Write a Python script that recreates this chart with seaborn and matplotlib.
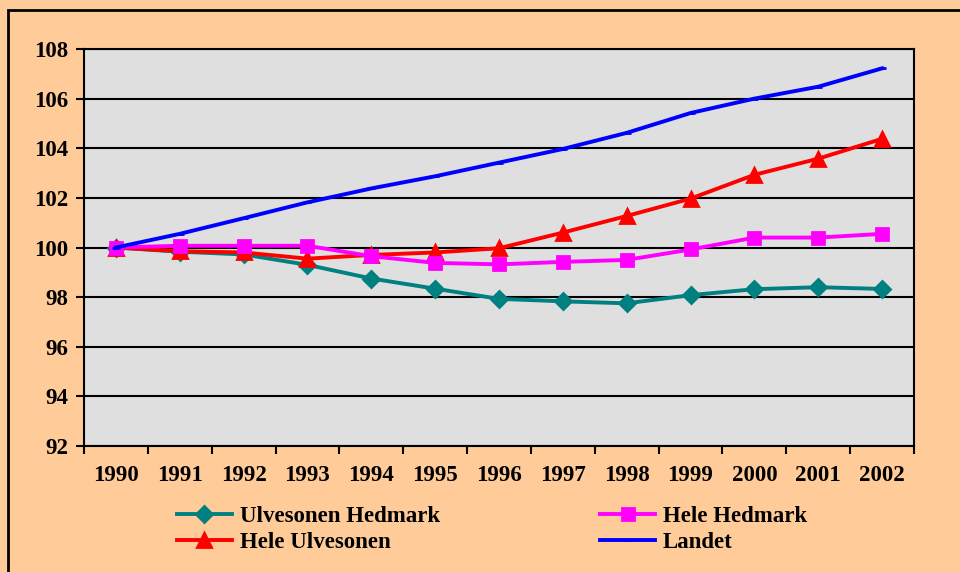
import pandas as pd
import seaborn as sns
import matplotlib.pyplot as plt
from matplotlib.patches import Rectangle
from matplotlib.ticker import FixedLocator

years = ['1990', '1991', '1992', '1993', '1994', '1995', '1996',
         '1997', '1998', '1999', '2000', '2001', '2002']
ulvesonen_hedmark = [100.0, 99.83, 99.72, 99.3, 98.75, 98.34, 97.93,
                     97.83, 97.75, 98.08, 98.32, 98.4, 98.33]
hele_hedmark = [100.0, 100.07, 100.07, 100.07, 99.65, 99.38, 99.32,
                99.42, 99.5, 99.92, 100.4, 100.4, 100.55]
hele_ulvesonen = [100.0, 99.85, 99.8, 99.55, 99.7, 99.8, 99.97,
                  100.6, 101.27, 101.97, 102.93, 103.58, 104.38]
landet = [100.0, 100.55, 101.18, 101.82, 102.38, 102.87, 103.42,
          103.97, 104.62, 105.42, 106.0, 106.48, 107.22]
y_ticks = [92, 94, 96, 98, 100, 102, 104, 106, 108]

series = [
    ('Ulvesonen Hedmark', ulvesonen_hedmark, '#008080', 'D', 8.5),
    ('Hele Ulvesonen', hele_ulvesonen, '#FF0000', '^', 10.5),
    ('Hele Hedmark', hele_hedmark, '#FF00FF', 's', 8.5),
    ('Landet', landet, '#0000FF', '_', 6),
]

plt.rcParams['font.family'] = ['Liberation Serif', 'DejaVu Serif']
plt.rcParams['font.weight'] = 'bold'

fig = plt.figure(figsize=(9.6, 5.72), dpi=100, facecolor='#FFCC99')
fig.patches.append(Rectangle((8 / 960, -0.1), 1.2, 1 - 10 / 572 + 0.1,
                             transform=fig.transFigure, fill=False,
                             edgecolor='black', linewidth=2))
ax = fig.add_axes([84 / 960, 1 - 446 / 572, 830 / 960, 397 / 572])
ax.set_facecolor('#DFDFDF')

pos = list(range(len(years)))
handles = {}
for name, vals, color, marker, ms in series:
    df = pd.DataFrame({'x': pos, 'y': vals})
    sns.lineplot(data=df, x='x', y='y', ax=ax, color=color, marker=marker,
                 markersize=ms, markeredgecolor=color, markeredgewidth=2,
                 linewidth=2.8, label=name, zorder=3)
    handles[name] = ax.get_lines()[-1]
ax.get_legend().remove()

ax.set_xlim(-0.5, len(years) - 0.5)
ax.set_ylim(92, 108)
ax.set_yticks(y_ticks)
ax.set_xticks(pos)
ax.set_xticklabels(years)
ax.xaxis.set_minor_locator(FixedLocator([p - 0.5 for p in pos] + [len(years) - 0.5]))
ax.tick_params(axis='x', which='major', length=0, pad=14, labelsize=16.5)
ax.tick_params(axis='x', which='minor', length=6, width=1.5, direction='out')
ax.tick_params(axis='y', length=6, width=1.5, direction='out', pad=5, labelsize=16.5)
ax.set_xlabel('')
ax.set_ylabel('')
ax.grid(axis='y', color='black', linewidth=1.5, zorder=1)
ax.set_axisbelow(True)
for spine in ax.spines.values():
    spine.set_linewidth(1.5)
    spine.set_color('black')

order = ['Ulvesonen Hedmark', 'Hele Ulvesonen', 'Hele Hedmark', 'Landet']
fig.legend([handles[n] for n in order], order, ncol=2, frameon=False,
           loc='upper left', bbox_to_anchor=(172 / 960, 1 - 501 / 572),
           prop={'size': 16.5, 'weight': 'bold'}, handlelength=2.4,
           handletextpad=0.35, columnspacing=7.0, labelspacing=0.25,
           borderaxespad=0, borderpad=0.2)

fig.savefig('out.png', dpi=100, facecolor='#FFCC99')
